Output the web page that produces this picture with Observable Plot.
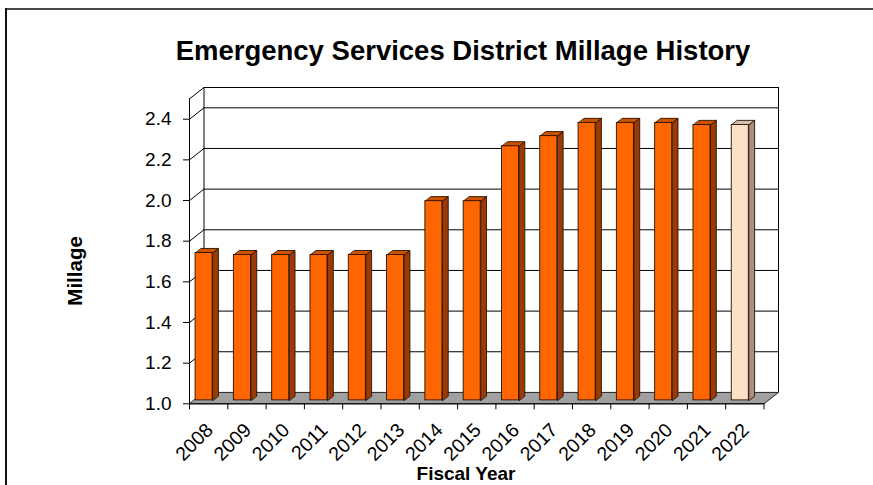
<!DOCTYPE html>
<html>
<head>
<meta charset="utf-8">
<script src="https://cdn.jsdelivr.net/npm/d3@7"></script>
<script src="https://cdn.jsdelivr.net/npm/@observablehq/plot@0.6"></script>
<style>
  html, body { margin: 0; padding: 0; background: #fff; overflow: hidden; width: 873px; height: 485px; }
  #wrap { position: relative; width: 873px; height: 485px; overflow: hidden; background: #fff; }
  .edge { position: absolute; pointer-events: none; }
  #edgeTop { left: 5px; top: 8px; width: 868px; height: 2px; background: #4a4a4a; }
  #edgeLeft { left: 5px; top: 8px; width: 2px; height: 477px; background: #111; }
  #title { box-sizing: border-box; width: 873px; height: 70px; padding-top: 38.5px; padding-left: 53px;
           text-align: center; white-space: nowrap;
           font: bold 27.5px/24px "Liberation Sans", Arial, sans-serif; color: #000; }
  svg { display: block; }
</style>
</head>
<body>
<div id="wrap">
  <div class="edge" id="edgeTop"></div>
  <div class="edge" id="edgeLeft"></div>
  <div id="title">Emergency Services District Millage History</div>
  <div id="chart"></div>
</div>
<script>
// ---- data ----
const years = ["2008","2009","2010","2011","2012","2013","2014","2015","2016","2017","2018","2019","2020","2021","2022"];
const millage = [1.725,1.715,1.715,1.715,1.715,1.715,1.98,1.98,2.25,2.30,2.365,2.365,2.365,2.355,2.355];
const projected = [false,false,false,false,false,false,false,false,false,false,false,false,false,false,true];
const yTicks = [1.0,1.2,1.4,1.6,1.8,2.0,2.2,2.4];
const yTop = 2.5;
const xLabel = "Fiscal Year";
const yLabel = "Millage";

// ---- style / 3D geometry ----
const DXU = 0.379;   // depth of the box in x units
const DYU = 0.056;   // depth of the box in y units
const F0 = 0.3, FD = 0.4, GAP = 0.045, BW = 0.445;
const pal = {
  main:  {front: "#ff6600", side: "#9c3a05", top: "#cc5200"},
  light: {front: "#fde1c6", side: "#a89080", top: "#d6bfae"}
};
const font = "'Liberation Sans', Arial, sans-serif";
const n = years.length;

const faces = [];
const fronts = [];
millage.forEach((v, i) => {
  const c = projected[i] ? pal.light : pal.main;
  const xL = i + GAP + F0 * DXU, xR = xL + BW;
  const yb = 1 + F0 * DYU, yt = v + F0 * DYU;
  const ex = FD * DXU, ey = FD * DYU;
  [[xR, yb], [xR, yt], [xR + ex, yt + ey], [xR + ex, yb + ey]]
    .forEach(([x, y]) => faces.push({x, y, key: "s" + i, fill: c.side}));
  [[xL, yt], [xR, yt], [xR + ex, yt + ey], [xL + ex, yt + ey]]
    .forEach(([x, y]) => faces.push({x, y, key: "t" + i, fill: c.top}));
  fronts.push({x1: xL, x2: xR, y1: yb, y2: yt, fill: c.front});
});

const floor = [[0, 1], [n, 1], [n + DXU, 1 + DYU], [DXU, 1 + DYU]].map(([x, y]) => ({x, y}));
const wallLevels = yTicks.slice(1).concat([yTop]);

const chart = Plot.plot({
  width: 873,
  height: 415,
  marginLeft: 189,
  marginRight: 95,
  marginTop: 17,
  marginBottom: 81.7,
  style: {fontFamily: font, fontSize: "19px", color: "#000", background: "transparent"},
  x: {type: "linear", domain: [0, n + DXU], axis: null},
  y: {type: "linear", domain: [1, yTop + DYU], axis: null},
  color: {type: "identity"},
  marks: [
    // back wall gridlines and edges
    Plot.ruleY(wallLevels, {y: d => d + DYU, x1: DXU, x2: n + DXU, stroke: "#000", strokeWidth: 1}),
    Plot.ruleX([DXU, n + DXU], {x: d => d, y1: 1 + DYU, y2: yTop + DYU, stroke: "#000", strokeWidth: 1}),
    // left side wall slanted lines
    Plot.link(wallLevels, {x1: 0, y1: d => d, x2: DXU, y2: d => d + DYU, stroke: "#000", strokeWidth: 1}),
    // floor
    Plot.line(floor, {x: "x", y: "y", fill: "#a0a0a0", stroke: "#222", strokeWidth: 1, curve: "linear-closed"}),
    // front axis lines
    Plot.ruleX([0], {y1: 1, y2: yTop, stroke: "#000", strokeWidth: 1}),
    Plot.ruleY([1], {x1: 0, x2: n, stroke: "#000", strokeWidth: 1}),
    // bars
    Plot.line(faces, {x: "x", y: "y", z: "key", fill: "fill", stroke: "#2a1200", strokeWidth: 0.9, curve: "linear-closed"}),
    Plot.rect(fronts, {x1: "x1", x2: "x2", y1: "y1", y2: "y2", fill: "fill", stroke: "#2a1200", strokeWidth: 0.9}),
    // axes
    Plot.axisY(yTicks, {anchor: "left", tickSize: 6, tickPadding: 12, tickFormat: d3.format(".1f"), label: null, fontSize: 19}),
    Plot.axisX(d3.range(n + 1), {anchor: "bottom", tickSize: 6, tickFormat: () => "", label: null}),
    Plot.text(years, {x: (d, i) => i + 0.5, y: 1, dy: 23, dx: 1, rotate: -45, textAnchor: "end", fontSize: 19.5, fill: "#000"}),
    Plot.text([xLabel], {frameAnchor: "bottom", dx: -18, dy: 76, fontWeight: "bold", fontSize: 19, fill: "#000"}),
    Plot.text([yLabel], {frameAnchor: "left", dx: -114, dy: 60, rotate: -90, fontWeight: "bold", fontSize: 20.5, fill: "#000"})
  ]
});
document.getElementById("chart").appendChild(chart);
</script>
</body>
</html>
